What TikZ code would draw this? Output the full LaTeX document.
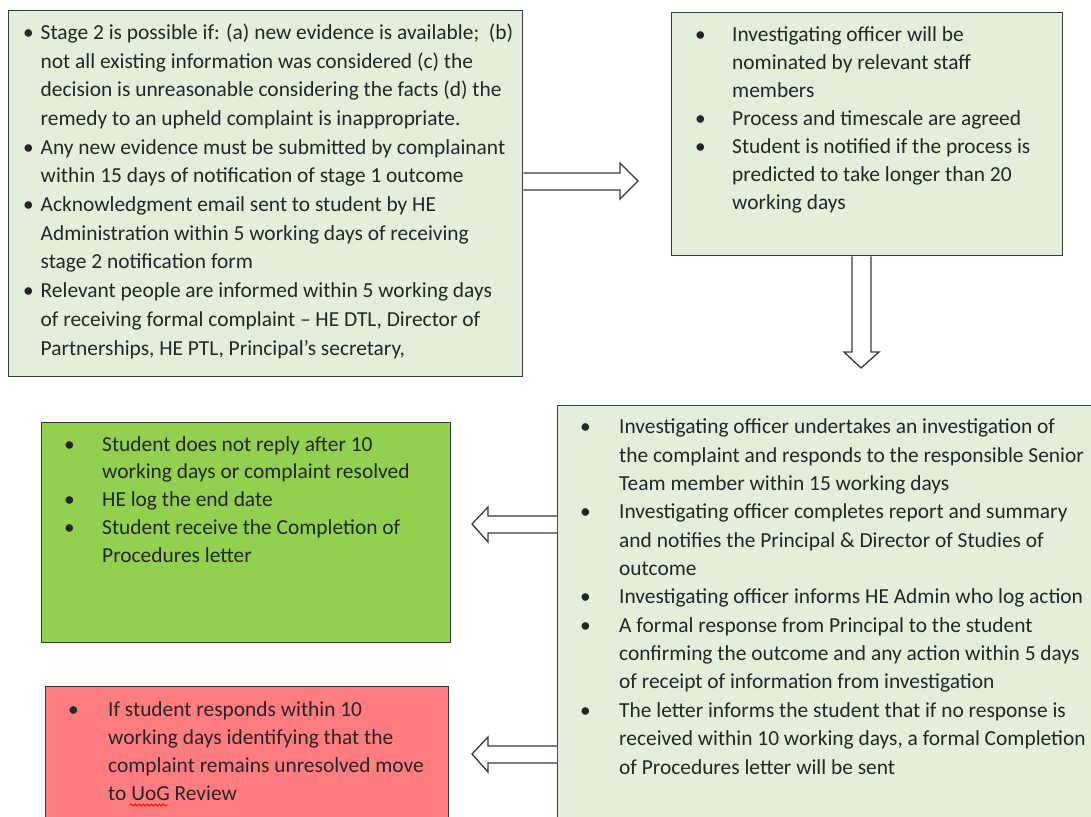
\documentclass[tikz,border=0pt]{standalone}
\usepackage{fontspec}
\setmainfont{Carlito}
\usetikzlibrary{calc,decorations.pathmorphing}
\definecolor{palegreen}{HTML}{E2EFDA}
\definecolor{brightgreen}{HTML}{92D050}
\definecolor{softred}{HTML}{FF7C80}
\definecolor{edge}{HTML}{3A3A3A}
\definecolor{ink}{HTML}{262626}
\newlength{\bgap}
\newcommand{\bpt}[1]{\makebox[\bgap][l]{\textbullet}#1}
\newcommand{\cnt}[1]{\hspace*{\bgap}#1}
\tikzset{
  panel/.style={draw=edge, line width=1.4pt, anchor=north west, inner sep=0pt},
  % texts are placed by the baseline of their last line;
  % #1 = bullet-to-text gap, #2 = line spacing
  txt/.style 2 args={anchor=base west, inner sep=0pt, align=left, text=ink,
    font={\fontsize{21.4}{#2}\selectfont\setlength{\bgap}{#1}}},
  blockarrow/.style={draw=edge, line width=1.3pt, fill=white, line join=miter},
}
\begin{document}
\begin{tikzpicture}[x=1pt, y=-1pt]
\useasboundingbox (0,0) rectangle (1091,816);

% panels
\node[panel, fill=palegreen, minimum width=514pt, minimum height=366pt] (b1) at (8,10) {};
\node[panel, fill=palegreen, minimum width=391pt, minimum height=243pt] (b2) at (671,12) {};
\node[panel, fill=palegreen, minimum width=545pt, minimum height=430pt] (b3) at (557,405) {};
\node[panel, fill=brightgreen, minimum width=409pt, minimum height=220pt] (b4) at (41,422) {};
\node[panel, fill=softred, minimum width=403pt, minimum height=150pt] (b5) at (45,686) {};

% panel texts
\node[txt={17.5pt}{28.7}] (t1) at (23,355) {%
\bpt{Stage 2 is possible if: (a) new evidence is available;\ \ (b)}\\
\cnt{not all existing information was considered (c) the}\\
\cnt{decision is unreasonable considering the facts (d) the}\\
\cnt{remedy to an upheld complaint is inappropriate.}\\
\bpt{Any new evidence must be submitted by complainant}\\
\cnt{within 15 days of notification of stage 1 outcome}\\
\bpt{Acknowledgment email sent to student by HE}\\
\cnt{Administration within 5 working days of receiving}\\
\cnt{stage 2 notification form}\\
\bpt{Relevant people are informed within 5 working days}\\
\cnt{of receiving formal complaint – HE DTL, Director of}\\
\cnt{Partnerships, HE PTL, Principal’s secretary,}};

\node[txt={37pt}{28.1}] (t2) at (695,209.6) {%
\bpt{Investigating officer will be}\\
\cnt{nominated by relevant staff}\\
\cnt{members}\\
\bpt{Process and timescale are agreed}\\
\bpt{Student is notified if the process is}\\
\cnt{predicted to take longer than 20}\\
\cnt{working days}};

\node[txt={39pt}{28.35}] (t3) at (580,774) {%
\bpt{Investigating officer undertakes an investigation of}\\
\cnt{the complaint and responds to the responsible Senior}\\
\cnt{Team member within 15 working days}\\
\bpt{Investigating officer completes report and summary}\\
\cnt{and notifies the Principal \& Director of Studies of}\\
\cnt{outcome}\\
\bpt{Investigating officer informs HE Admin who log action}\\
\bpt{A formal response from Principal to the student}\\
\cnt{confirming the outcome and any action within 5 days}\\
\cnt{of receipt of information from investigation}\\
\bpt{The letter informs the student that if no response is}\\
\cnt{received within 10 working days, a formal Completion}\\
\cnt{of Procedures letter will be sent}};

\node[txt={38pt}{27.85}] (t4) at (64,562.5) {%
\bpt{Student does not reply after 10}\\
\cnt{working days or complaint resolved}\\
\bpt{HE log the end date}\\
\bpt{Student receive the Completion of}\\
\cnt{Procedures letter}};

\node[txt={40pt}{27.8}] (t5) at (68,800) {%
\bpt{If student responds within 10}\\
\cnt{working days identifying that the}\\
\cnt{complaint remains unresolved move}\\
\cnt{to UoG Review}};

% spelling squiggle under "UoG"
\draw[red, line width=0.8pt, decorate, decoration={snake, amplitude=1pt, segment length=4pt}]
  (130,805) -- (168,805);

% block arrows between panels
\draw[blockarrow] (b1.east |- 0,173) -- (620,173) -- (620,163) -- (638,181)
  -- (620,199) -- (620,190) -- (b1.east |- 0,190);
\draw[blockarrow] (b2.south -| 852,0) -- (852,352) -- (844,352) -- (861,368)
  -- (879,352) -- (871,352) -- (b2.south -| 871,0);
\draw[blockarrow] (b3.west |- 0,516) -- (488,516) -- (488,507) -- (472,524)
  -- (488,542) -- (488,533) -- (b3.west |- 0,533);
\draw[blockarrow] (b3.west |- 0,746) -- (488,746) -- (488,737) -- (472,754)
  -- (488,772) -- (488,763) -- (b3.west |- 0,763);
\end{tikzpicture}
\end{document}
